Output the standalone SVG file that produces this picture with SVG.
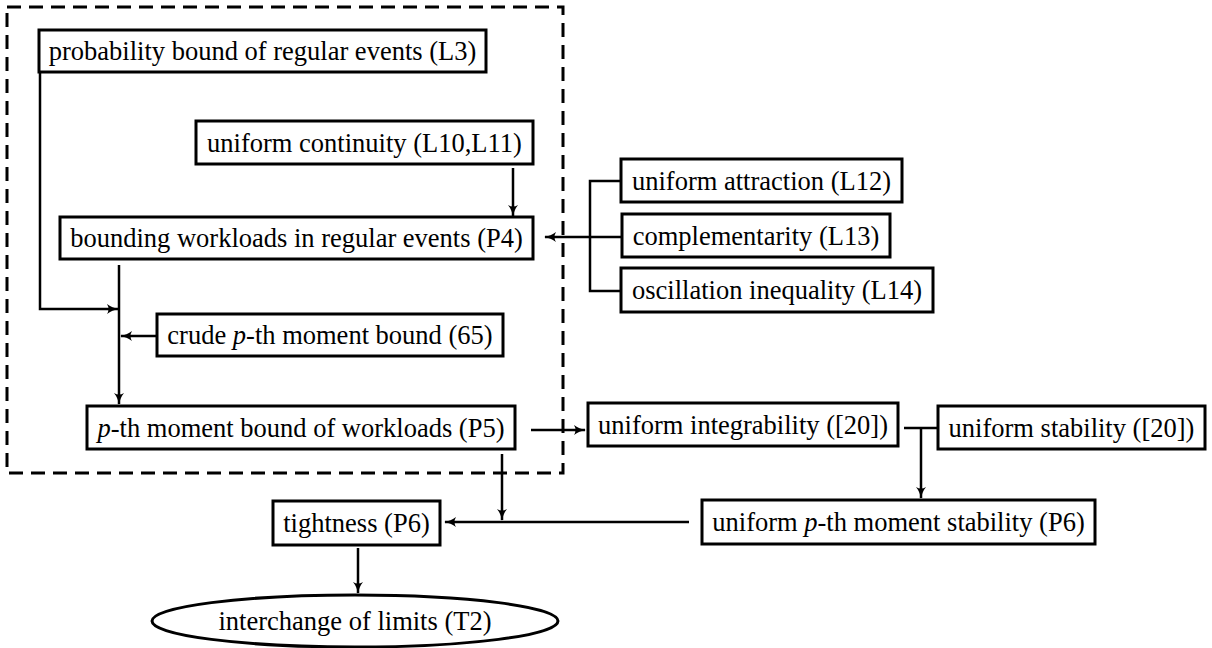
<svg xmlns="http://www.w3.org/2000/svg" width="1212" height="648" viewBox="0 0 1212 648">
<defs>
<style>
.box{fill:#fff;stroke:#000;stroke-width:3}
.lbl{font-family:"Liberation Serif","Times New Roman",serif;font-size:26.5px;fill:#000;text-anchor:middle}
.it{font-style:italic}
.con{fill:none;stroke:#000;stroke-width:2.5}
.dash{fill:none;stroke:#000;stroke-width:3;stroke-dasharray:14 8}
</style>
<marker id="arr" markerUnits="userSpaceOnUse" markerWidth="12" markerHeight="10" viewBox="0 0 12 10" refX="11" refY="5" orient="auto">
<path d="M0,0 Q5,4 12,5 Q5,6 0,10 Q3,5 0,0 Z" fill="#000"/>
</marker>
</defs>
<rect id="group-frame" class="dash" x="7" y="7" width="556" height="466"/>
<g id="connectors">
<path class="con" d="M40,72 V309 H118" marker-end="url(#arr)"/>
<path class="con" d="M513,168 V216" marker-end="url(#arr)"/>
<path class="con" d="M621,181 H590 V291 H621"/>
<path class="con" d="M622,237 H545" marker-end="url(#arr)"/>
<path class="con" d="M119,265 V404" marker-end="url(#arr)"/>
<path class="con" d="M157,336 H121" marker-end="url(#arr)"/>
<path class="con" d="M531,430 H585" marker-end="url(#arr)"/>
<path class="con" d="M904,428 H938"/>
<path class="con" d="M921,428 V498" marker-end="url(#arr)"/>
<path class="con" d="M502,454 V520" marker-end="url(#arr)"/>
<path class="con" d="M689,522 H445" marker-end="url(#arr)"/>
<path class="con" d="M358,548 V593" marker-end="url(#arr)"/>
</g>
<g id="n-l3"><rect class="box" x="39" y="30" width="447" height="42"/><text class="lbl" x="262.5" y="60">probability bound of regular events (L3)</text></g>
<g id="n-l10"><rect class="box" x="196" y="121" width="337" height="43"/><text class="lbl" x="364.5" y="151.5">uniform continuity (L10,L11)</text></g>
<g id="n-p4"><rect class="box" x="60" y="217" width="473" height="42"/><text class="lbl" x="296.5" y="247">bounding workloads in regular events (P4)</text></g>
<g id="n-l12"><rect class="box" x="621" y="159" width="281" height="43"/><text class="lbl" x="761.5" y="189.5">uniform attraction (L12)</text></g>
<g id="n-l13"><rect class="box" x="622" y="214" width="268" height="43"/><text class="lbl" x="756" y="244.5">complementarity (L13)</text></g>
<g id="n-l14"><rect class="box" x="621" y="268" width="312" height="44"/><text class="lbl" x="777" y="299">oscillation inequality (L14)</text></g>
<g id="n-65"><rect class="box" x="157" y="314" width="346" height="42"/><text class="lbl" x="330" y="344">crude <tspan class="it">p</tspan>-th moment bound (65)</text></g>
<g id="n-p5"><rect class="box" x="87" y="406" width="428" height="43"/><text class="lbl" x="301" y="436.5"><tspan class="it">p</tspan>-th moment bound of workloads (P5)</text></g>
<g id="n-ui"><rect class="box" x="588" y="403" width="310" height="43"/><text class="lbl" x="743" y="433.5">uniform integrability ([20])</text></g>
<g id="n-us"><rect class="box" x="938" y="406" width="267" height="43"/><text class="lbl" x="1071.5" y="436.5">uniform stability ([20])</text></g>
<g id="n-tight"><rect class="box" x="273" y="501" width="167" height="44"/><text class="lbl" x="356.5" y="532">tightness (P6)</text></g>
<g id="n-ups"><rect class="box" x="702" y="500" width="393" height="44"/><text class="lbl" x="898.5" y="531">uniform <tspan class="it">p</tspan>-th moment stability (P6)</text></g>
<g id="n-t2"><ellipse class="box" cx="355" cy="621" rx="203" ry="26"/><text class="lbl" x="355" y="630">interchange of limits (T2)</text></g>
</svg>
